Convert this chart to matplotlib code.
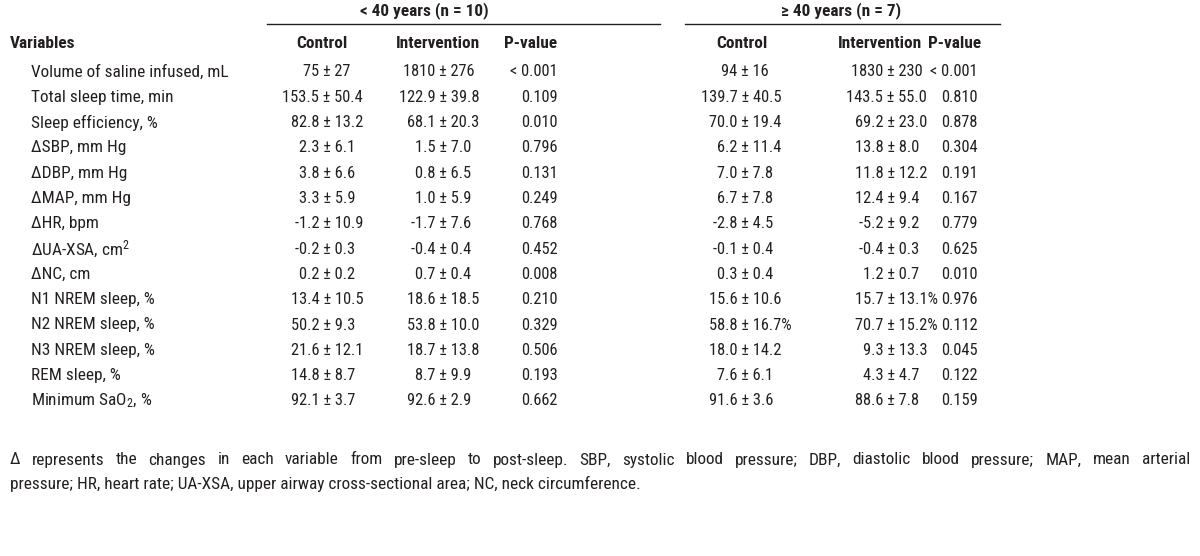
import matplotlib
matplotlib.use("Agg")
import matplotlib.pyplot as plt

FAMILY = ['Liberation Sans Narrow', 'Arial Narrow', 'Roboto Condensed', 'Archivo Narrow',
          'Liberation Sans', 'DejaVu Sans']
plt.rcParams['font.family'] = FAMILY
plt.rcParams['mathtext.fontset'] = 'custom'
plt.rcParams['mathtext.rm'] = 'Roboto Condensed'
plt.rcParams['mathtext.it'] = 'Roboto Condensed'

group_titles = ["< 40 years (n = 10)", "\u2265 40 years (n = 7)"]
col_headers = ["Control", "Intervention", "P-value", "Control", "Intervention", "P-value"]
variables = [
    "Volume of saline infused, mL",
    "Total sleep time, min",
    "Sleep efficiency, %",
    "\u0394SBP, mm Hg",
    "\u0394DBP, mm Hg",
    "\u0394MAP, mm Hg",
    "\u0394HR, bpm",
    "\u0394UA-XSA, cm$^\\mathregular{2}$",
    "\u0394NC, cm",
    "N1 NREM sleep, %",
    "N2 NREM sleep, %",
    "N3 NREM sleep, %",
    "REM sleep, %",
    "Minimum SaO$_\\mathregular{2}$, %",
]
control_lt40 = ["75 \u00b1 27", "153.5 \u00b1 50.4", "82.8 \u00b1 13.2", "2.3 \u00b1 6.1", "3.8 \u00b1 6.6",
                "3.3 \u00b1 5.9", "-1.2 \u00b1 10.9", "-0.2 \u00b1 0.3", "0.2 \u00b1 0.2", "13.4 \u00b1 10.5",
                "50.2 \u00b1 9.3", "21.6 \u00b1 12.1", "14.8 \u00b1 8.7", "92.1 \u00b1 3.7"]
interv_lt40 = ["1810 \u00b1 276", "122.9 \u00b1 39.8", "68.1 \u00b1 20.3", "1.5 \u00b1 7.0", "0.8 \u00b1 6.5",
               "1.0 \u00b1 5.9", "-1.7 \u00b1 7.6", "-0.4 \u00b1 0.4", "0.7 \u00b1 0.4", "18.6 \u00b1 18.5",
               "53.8 \u00b1 10.0", "18.7 \u00b1 13.8", "8.7 \u00b1 9.9", "92.6 \u00b1 2.9"]
p_lt40 = ["< 0.001", "0.109", "0.010", "0.796", "0.131", "0.249", "0.768", "0.452", "0.008",
          "0.210", "0.329", "0.506", "0.193", "0.662"]
control_ge40 = ["94 \u00b1 16", "139.7 \u00b1 40.5", "70.0 \u00b1 19.4", "6.2 \u00b1 11.4", "7.0 \u00b1 7.8",
                "6.7 \u00b1 7.8", "-2.8 \u00b1 4.5", "-0.1 \u00b1 0.4", "0.3 \u00b1 0.4", "15.6 \u00b1 10.6",
                "58.8 \u00b1 16.7%", "18.0 \u00b1 14.2", "7.6 \u00b1 6.1", "91.6 \u00b1 3.6"]
interv_ge40 = ["1830 \u00b1 230", "143.5 \u00b1 55.0", "69.2 \u00b1 23.0", "13.8 \u00b1 8.0", "11.8 \u00b1 12.2",
               "12.4 \u00b1 9.4", "-5.2 \u00b1 9.2", "-0.4 \u00b1 0.3", "1.2 \u00b1 0.7", "15.7 \u00b1 13.1%",
               "70.7 \u00b1 15.2%", "9.3 \u00b1 13.3", "4.3 \u00b1 4.7", "88.6 \u00b1 7.8"]
p_ge40 = ["< 0.001", "0.810", "0.878", "0.304", "0.191", "0.167", "0.779", "0.625", "0.010",
          "0.976", "0.112", "0.045", "0.122", "0.159"]
footnote_lines = [
    "\u0394 represents the changes in each variable from pre-sleep to post-sleep. SBP, systolic blood pressure; "
    "DBP, diastolic blood pressure; MAP, mean arterial",
    "pressure; HR, heart rate; UA-XSA, upper airway cross-sectional area; NC, neck circumference.",
]

W, H = 1200, 556
fig = plt.figure(figsize=(12, 5.56), dpi=100)
ax = fig.add_axes([0, 0, 1, 1])
ax.set_xlim(0, W)
ax.set_ylim(H, 0)
ax.axis('off')

FS_TXT = 12.4   # labels, headers, footnote
FS_NUM = 11.8   # numeric cells
TXT = '#231f20'

fig.canvas.draw()
renderer = fig.canvas.get_renderer()

def width_of(s, fs, **kw):
    t = ax.text(0, 0, s, fontsize=fs, **kw)
    w = t.get_window_extent(renderer=renderer).width
    t.remove()
    return w

# group titles and rules
ax.text(424, 11, group_titles[0], fontsize=FS_TXT, fontweight='bold', ha='center', va='center', color=TXT)
ax.text(841, 11, group_titles[1], fontsize=FS_TXT, fontweight='bold', ha='center', va='center', color=TXT)
ax.plot([267, 660], [24, 24], color=TXT, lw=1.0)
ax.plot([685, 1000], [24, 24], color=TXT, lw=1.0)

# headers
hy = 44
ax.text(10, hy, "Variables", fontsize=FS_TXT, fontweight='bold', ha='left', va='center', color=TXT)
hx = [(322, 'center'), (438, 'center'), (557, 'right'), (742, 'center'), (880, 'center'), (981, 'right')]
for (x, ha), h in zip(hx, col_headers):
    ax.text(x, hy, h, fontsize=FS_TXT, fontweight='bold', ha=ha, va='center', color=TXT)

# rows
y0, dy = 72, 25.3
pm_cols = [(control_lt40, 327), (interv_lt40, 443), (control_ge40, 745), (interv_ge40, 891)]
p_cols = [(p_lt40, 558), (p_ge40, 978)]
w_pm = width_of("\u00b1", FS_NUM)
for i, var in enumerate(variables):
    y = y0 + i * dy
    ax.text(31, y, var, fontsize=FS_TXT, ha='left', va='center', color=TXT)
    for vals, xpm in pm_cols:
        s = vals[i]
        left = s.split(" \u00b1 ")[0]
        offset = width_of(left + " \u00b1", FS_NUM) - w_pm / 2.0
        ax.text(xpm - offset, y, s, fontsize=FS_NUM, ha='left', va='center', color=TXT)
    for vals, xr in p_cols:
        ax.text(xr, y, vals[i], fontsize=FS_NUM, ha='right', va='center', color=TXT)

# footnote (first line justified)
fy = [460, 484]
x_left, x_right = 10, 1190
words = footnote_lines[0].split(" ")
widths = [width_of(w, FS_TXT) for w in words]
gap = (x_right - x_left - sum(widths)) / (len(words) - 1)
x = x_left
for wd, w in zip(words, widths):
    ax.text(x, fy[0], wd, fontsize=FS_TXT, ha='left', va='center', color=TXT)
    x += w + gap
ax.text(x_left, fy[1], footnote_lines[1], fontsize=FS_TXT, ha='left', va='center', color=TXT)

fig.savefig("out.png", dpi=100)
